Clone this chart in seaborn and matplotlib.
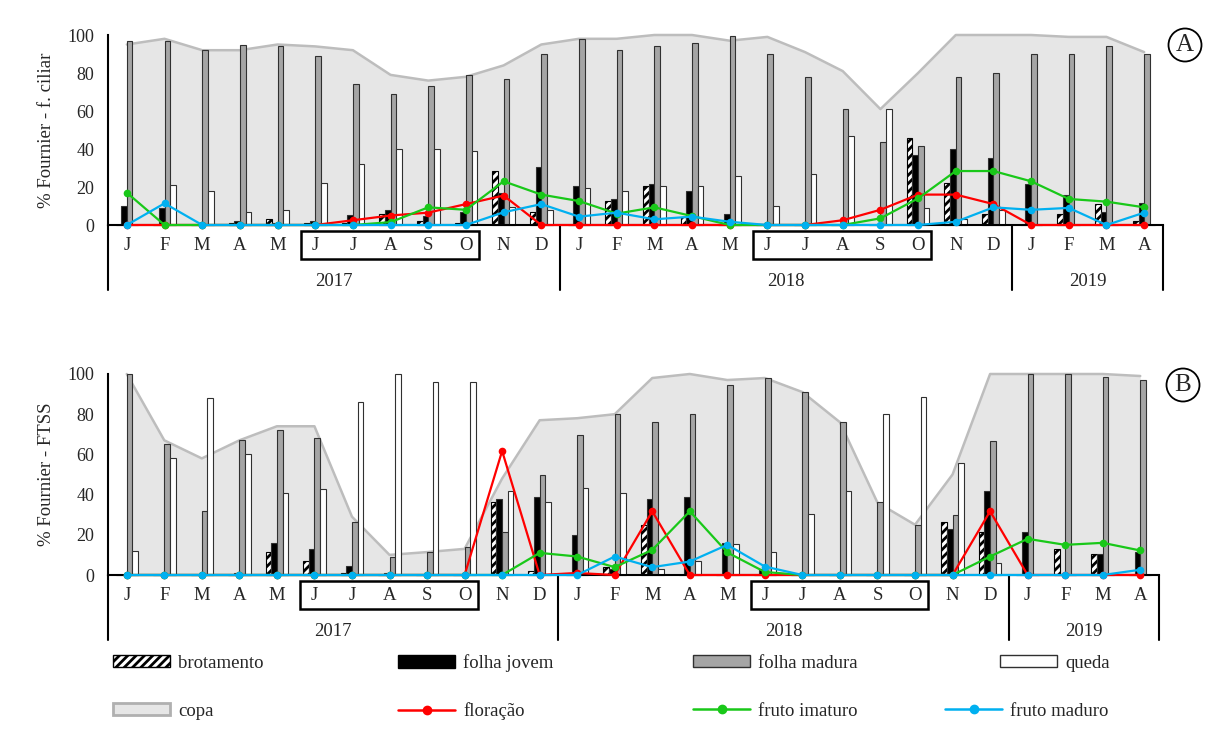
import numpy as np
import pandas as pd
import matplotlib.pyplot as plt
import seaborn as sns
from matplotlib.patches import Patch, Rectangle
from matplotlib.lines import Line2D

sns.set_theme(style='white')
plt.rcParams['font.family'] = ['Liberation Serif', 'DejaVu Serif']
plt.rcParams['hatch.linewidth'] = 2.0

meses = list('JFMAMJJASOND') * 2 + list('JFMA')
anos = ['2017', '2018', '2019']
fases = ['brotamento', 'folha jovem', 'folha madura', 'queda']

# painel A - f. ciliar
brot_a = [0, 0, 0, 1, 3, 1, 1, 6, 2, 1, 28.6, 7, 0, 12.6, 20.5, 4, 0, 0, 0, 0, 0, 46, 22, 6, 0, 6, 11, 2]
jovem_a = [10, 9, 0, 2, 1, 2, 5.5, 8, 5, 7, 16.7, 30.4, 20.5, 13.5, 21.4, 18, 5.6, 0, 0, 0, 0, 37, 40, 35.5, 21.4, 16, 7, 11.4]
madura_a = [97, 97, 92, 95, 94, 89, 74, 69, 73, 79, 77, 90, 98, 92, 94, 96, 99.6, 90, 78, 61, 43.5, 41.6, 78, 80, 90, 90, 94.4, 90]
queda_a = [0, 21, 18, 7, 8, 22, 32, 40, 40, 39, 9.6, 8, 19.3, 18, 20.5, 20.5, 26, 10, 27, 47, 61, 8.8, 3, 8, 0, 0, 0, 0]
copa_a = [95, 98, 92, 92, 95, 94, 92, 79, 76, 78, 84, 95, 98, 98, 100, 100, 97, 99, 91, 81, 61, 80, 100, 100, 100, 99, 99, 91]
flor_a = [0, 0, 0, 0, 0, 0, 2.5, 5, 6.5, 11, 15.5, 0, 0, 0, 0, 0, 0, 0, 0, 2.5, 8, 16, 16, 11, 0, 0, 0, 0]
imat_a = [17, 0, 0, 0, 0, 0, 0, 1.5, 9.3, 8, 23, 16, 12.6, 6, 9.3, 4.7, 0, 0, 0, 0, 3.5, 14, 28.4, 28.4, 23, 13.7, 12.3, 9.3]
madu_a = [0, 11.4, 0, 0, 0, 0, 0, 0, 0, 0, 6.7, 11, 4.4, 6.5, 3, 4.4, 1.7, 0, 0, 0, 0, 0, 1.7, 9.3, 8, 9, 0, 6.5]

# painel B - FTSS
brot_b = [0, 0, 0, 0, 11.4, 7, 1, 0, 0, 0, 36.3, 2, 0, 4, 25, 0, 0, 0, 0, 0, 0, 0, 26.3, 21.4, 0, 12.7, 10.5, 0]
jovem_b = [0, 0, 0, 1, 16, 12.7, 4.7, 1, 0, 0, 37.6, 38.8, 19.7, 3, 38, 38.8, 16, 3, 0, 0, 0, 0, 22.7, 42, 21.4, 0, 10.5, 11.4]
madura_b = [100, 65, 32, 67, 72, 68, 26.3, 9, 11.4, 14, 21.4, 50, 69.6, 80, 76, 80, 94.5, 98, 91, 76, 36.3, 25, 29.7, 66.6, 100, 100, 98.3, 97]
queda_b = [12, 58, 88, 60, 41, 43, 86, 100, 96, 96, 42, 36.3, 43.3, 41, 3, 7, 15.5, 11.4, 30.5, 42, 80, 88.7, 55.8, 6, 0, 0, 0, 0]
copa_b = [100, 67, 58, 67, 74, 74, 29, 10, 11.4, 13, 48, 77, 78, 80, 98, 100, 97, 98, 91, 76, 36, 25, 50, 100, 100, 100, 100, 99]
flor_b = [0, 0, 0, 0, 0, 0, 0, 0, 0, 0, 61.7, 0, 1, 0, 31.7, 0, 0, 0, 0, 0, 0, 0, 0, 31.7, 0, 0, 0, 0]
imat_b = [0, 0, 0, 0, 0, 0, 0, 0, 0, 0, 0, 11, 9.2, 3.9, 12.5, 31.7, 11.2, 1.5, 0, 0, 0, 0, 0, 9.2, 18, 15, 16, 12.2]
madu_b = [0, 0, 0, 0, 0, 0, 0, 0, 0, 0, 0, 0, 0, 9.2, 3.9, 6.7, 15, 4.2, 0, 0, 0, 0, 0, 0, 0, 0, 0, 2.6]

cores = {'brotamento': 'white', 'folha jovem': 'black', 'folha madura': '#a5a5a5', 'queda': 'white'}
c_flor, c_imat, c_madu = '#ff0000', '#19c819', '#00b0f0'

W, H = 1209, 742
fig = plt.figure(figsize=(W / 100, H / 100), dpi=100)


def painel(rect, brot, jovem, madura, queda, copa, flor, imat, madu, ylabel):
    ax = fig.add_axes(rect)
    x = np.arange(len(meses))
    df = pd.DataFrame({'mes': np.tile(x, 4),
                       'fase': np.repeat(fases, len(x)),
                       'valor': brot + jovem + madura + queda})
    sns.barplot(data=df, x='mes', y='valor', hue='fase', hue_order=fases, palette=cores,
                width=0.6, saturation=1, errorbar=None, legend=False,
                edgecolor='#303030', linewidth=0.8, ax=ax)
    for k, cont in enumerate(ax.containers):
        for p in cont:
            p.set_zorder(2)
            p.set_clip_on(False)
            if k == 0:
                p.set_hatch('////')
                p.set_edgecolor('black')

    ax.fill_between(x, copa, color='#e6e6e6', zorder=0, lw=0)
    ax.plot(x, copa, color='#bdbdbd', lw=1.8, zorder=0.5, clip_on=False)

    for vals, c in [(flor, c_flor), (imat, c_imat), (madu, c_madu)]:
        sns.lineplot(x=x, y=vals, color=c, marker='o', markersize=5.5, markeredgewidth=0,
                     linewidth=1.6, ax=ax, zorder=3, clip_on=False)

    ax.set_xlim(-0.5, 27.5)
    ax.set_ylim(0, 100)
    ax.set_yticks(range(0, 101, 20))
    ax.set_xticks([])
    ax.set_xlabel('')
    ax.set_ylabel(ylabel, fontsize=13.5)
    ax.yaxis.set_label_coords(-53 / (rect[2] * W), 0.5)
    ax.tick_params(axis='y', length=0, pad=10, labelsize=13)
    for s in ['top', 'right']:
        ax.spines[s].set_visible(False)
    for s in ['left', 'bottom']:
        ax.spines[s].set_color('black')
        ax.spines[s].set_linewidth(1.5)

    # escala em pixels para a parte de baixo (meses e anos)
    u = rect[3] * H / 100
    for xs in [-0.5, 11.5, 23.5, 27.5]:
        ax.plot([xs, xs], [0, -65 / u], color='black', lw=1.5, clip_on=False)
    for i, m in enumerate(meses):
        ax.text(i, -20 / u, m, ha='center', va='center', fontsize=13.5)
    for a, xc in zip(anos, [5.5, 17.5, 25.5]):
        ax.text(xc, -56 / u, a, ha='center', va='center', fontsize=13.5)
    for i0, i1 in [(5, 9), (17, 21)]:
        ax.add_patch(Rectangle((i0 - 0.38, -34 / u), i1 - i0 + 0.73, 28 / u, fill=False,
                               edgecolor='black', lw=1.8, clip_on=False))
    return ax


ax_a = painel([108 / W, 1 - 225 / H, 1055 / W, 190 / H], brot_a, jovem_a, madura_a, queda_a,
              copa_a, flor_a, imat_a, madu_a, '% Fournier - f. ciliar')
ax_b = painel([108 / W, 1 - 575 / H, 1051 / W, 201 / H], brot_b, jovem_b, madura_b, queda_b,
              copa_b, flor_b, imat_b, madu_b, '% Fournier - FTSS')

for letra, (xp, yp) in [('A', (1185, 45)), ('B', (1183, 385))]:
    fig.text(xp / W, 1 - yp / H, letra, ha='center', va='center', fontsize=18,
             bbox=dict(boxstyle='circle,pad=0.22', fc='white', ec='black', lw=1.3))

# legenda: cada item no seu lugar, como no original
itens = [
    (Patch(facecolor='white', edgecolor='black', hatch='////', label='brotamento'), 113, 663),
    (Patch(facecolor='black', edgecolor='black', label='folha jovem'), 398, 663),
    (Patch(facecolor='#a5a5a5', edgecolor='#303030', label='folha madura'), 693, 663),
    (Patch(facecolor='white', edgecolor='#303030', label='queda'), 1000, 663),
    (Patch(facecolor='#e6e6e6', edgecolor='#b0b0b0', lw=2, label='copa'), 113, 711),
    (Line2D([], [], color=c_flor, marker='o', ms=6, lw=1.8, label='floração'), 398, 711),
    (Line2D([], [], color=c_imat, marker='o', ms=6, lw=1.8, label='fruto imaturo'), 693, 711),
    (Line2D([], [], color=c_madu, marker='o', ms=6, lw=1.8, label='fruto maduro'), 945, 711),
]
for h, xp, yp in itens:
    fig.legend(handles=[h], loc='center left', bbox_to_anchor=(xp / W, 1 - yp / H),
               frameon=False, handlelength=3.05, handleheight=0.65, handletextpad=0.42,
               fontsize=13.5, borderaxespad=0, borderpad=0)

fig.savefig('out.png', dpi=100)
